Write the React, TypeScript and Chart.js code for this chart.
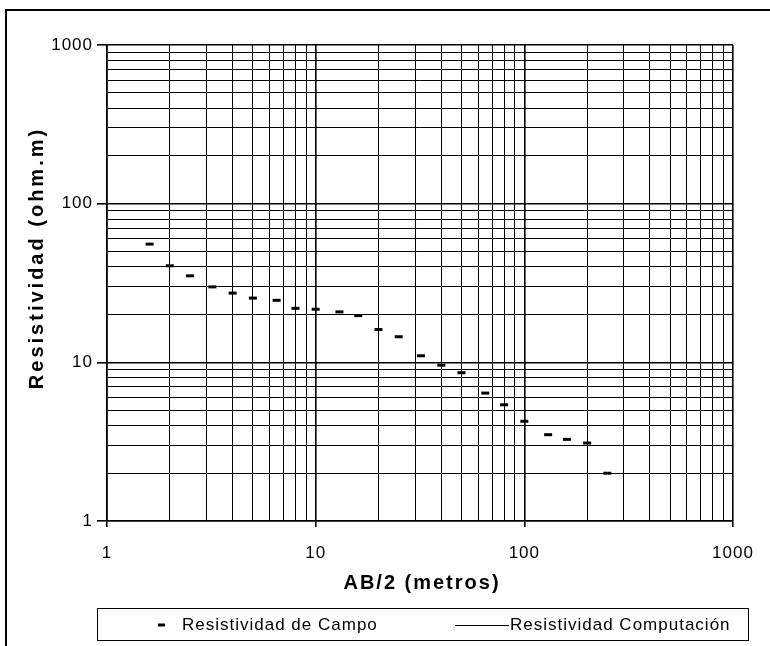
import React, { useEffect, useRef } from 'react';
import { Chart, registerables } from 'chart.js';

Chart.register(...registerables);

// ---- data ----
const abHalf = [1.6, 2, 2.5, 3.2, 4, 5, 6.5, 8, 10, 13, 16, 20, 25, 32, 40, 50, 65, 80, 100, 130, 160, 200, 250];
const resistividadCampo = [55.6, 40.6, 35.1, 29.9, 27.3, 25.4, 24.6, 21.9, 21.6, 20.8, 19.7, 16.1, 14.5, 11.0, 9.6, 8.6, 6.4, 5.4, 4.25, 3.5, 3.27, 3.1, 2.0];
const resistividadComputacion: { x: number; y: number }[] = [];

const gridValues = [
  1, 2, 3, 4, 5, 6, 7, 8, 9,
  10, 20, 30, 40, 50, 60, 70, 80, 90,
  100, 200, 300, 400, 500, 600, 700, 800, 900,
  1000,
];
const tickLabels = ['1', '10', '100', '1000'];

const xTitle = 'AB/2 (metros)';
const yTitle = 'Resistividad (ohm.m)';
const campoLabel = 'Resistividad de Campo';
const compLabel = 'Resistividad Computación';

const FONT = '"Liberation Sans", Arial, sans-serif';

const isPow10 = (v: number) => Math.abs(Math.log10(v) - Math.round(Math.log10(v))) < 1e-9;

const decoPlugin = {
  id: 'deco',
  beforeDraw(chart: any) {
    chart.ctx.letterSpacing = '1px';
  },
  afterDraw(chart: any) {
    const ctx = chart.ctx as CanvasRenderingContext2D;
    ctx.save();
    ctx.fillStyle = '#000';
    ctx.strokeStyle = '#000';
    // page frame (top and left)
    ctx.fillRect(5, 9, 765, 2);
    ctx.fillRect(5, 9, 2, 637);

    const xs = chart.scales.x;
    // x title
    ctx.font = `bold 20px ${FONT}`;
    (ctx as any).letterSpacing = '2px';
    ctx.textAlign = 'center';
    ctx.textBaseline = 'middle';
    ctx.fillText(xTitle, (xs.left + xs.right) / 2 + 2, 583);
    // y title
    ctx.save();
    ctx.translate(37, 258);
    ctx.rotate(-Math.PI / 2);
    (ctx as any).letterSpacing = '3px';
    ctx.fillText(yTitle, 0, 0);
    ctx.restore();

    // legend
    const ds = chart.data.datasets;
    ctx.lineWidth = 1;
    ctx.strokeRect(97.5, 608.5, 651, 32);
    const ly = 625;
    ctx.fillRect(158, ly - 1.5, 7, 3);
    ctx.font = `17px ${FONT}`;
    (ctx as any).letterSpacing = '1px';
    ctx.textAlign = 'left';
    ctx.fillText(ds[0].label, 182, ly);
    ctx.beginPath();
    ctx.moveTo(455, ly + 0.5);
    ctx.lineTo(509, ly + 0.5);
    ctx.stroke();
    ctx.fillText(ds[1].label, 510, ly);
    ctx.restore();
    (ctx as any).letterSpacing = '0px';
  },
};

function logAxis(pos: 'x' | 'y') {
  return {
    type: 'logarithmic' as const,
    position: pos === 'x' ? 'bottom' : 'left',
    min: 1,
    max: 1000,
    afterBuildTicks: (s: any) => {
      s.ticks = gridValues.map((v) => ({ value: v, major: isPow10(v) }));
    },
    afterFit: (s: any) => {
      if (pos === 'x') s.height = 125;
      else s.width = 107;
    },
    ticks: {
      autoSkip: false,
      maxRotation: 0,
      color: '#000',
      font: { family: FONT, size: 17 },
      padding: pos === 'x' ? 16 : 4,
      callback: (v: any) => {
        const n = Number(v);
        if (!isPow10(n)) return '';
        return tickLabels[Math.round(Math.log10(n))];
      },
    },
    grid: {
      color: '#000',
      lineWidth: (c: any) => (c.tick && isPow10(c.tick.value) ? 1.6 : 1),
      tickLength: pos === 'x' ? 6 : 10,
      tickColor: (c: any) => (c.tick && isPow10(c.tick.value) ? '#000' : 'rgba(0,0,0,0)'),
      drawTicks: true,
    },
    border: { display: true, color: '#000', width: 1.6 },
    title: { display: false },
  };
}

export default function App() {
  const ref = useRef<HTMLCanvasElement | null>(null);
  useEffect(() => {
    if (!ref.current) return;
    const chart = new Chart(ref.current, {
      type: 'scatter',
      data: {
        datasets: [
          {
            label: campoLabel,
            data: abHalf.map((x, i) => ({ x, y: resistividadCampo[i] })),
            showLine: false,
            pointStyle: 'line',
            pointRadius: 4,
            pointBorderWidth: 3,
            borderColor: '#000',
            backgroundColor: '#000',
          },
          {
            label: compLabel,
            type: 'line',
            data: resistividadComputacion,
            borderColor: '#000',
            borderWidth: 1,
            pointRadius: 0,
          } as any,
        ],
      },
      options: {
        responsive: false,
        animation: false,
        devicePixelRatio: 1,
        layout: { padding: { left: 0, top: 45, right: 37, bottom: 0 } },
        plugins: { legend: { display: false }, tooltip: { enabled: false } },
        scales: { x: logAxis('x') as any, y: logAxis('y') as any },
      },
      plugins: [decoPlugin],
    });
    return () => chart.destroy();
  }, []);
  return (
    <div style={{ position: 'absolute', left: 0, top: 0, width: 770, height: 646, background: '#fff' }}>
      <canvas ref={ref} width={770} height={646} />
    </div>
  );
}
